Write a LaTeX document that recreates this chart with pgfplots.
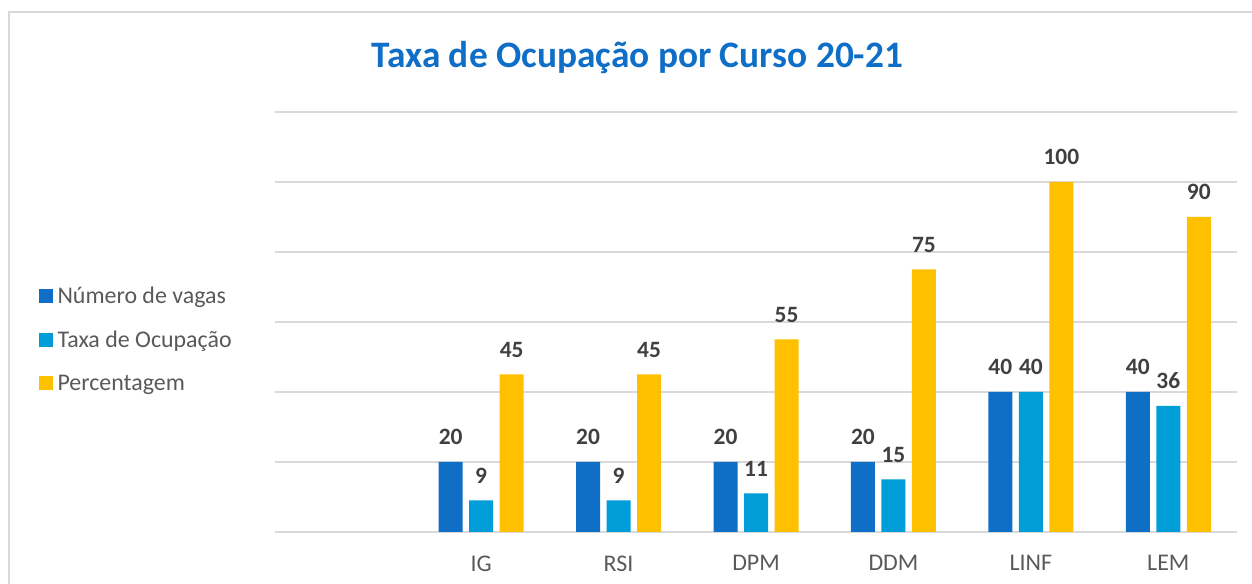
\documentclass[border=0pt]{standalone}
\usepackage{pgfplots}
\pgfplotsset{compat=1.18}
\usepackage{fontspec}
\setmainfont{Carlito}
\definecolor{cA}{HTML}{0F6FC6}
\definecolor{cB}{HTML}{009DD9}
\definecolor{cC}{HTML}{FFC000}
\definecolor{gridc}{HTML}{D9D9D9}
\definecolor{txt}{HTML}{595959}
\definecolor{lab}{HTML}{404040}
\pgfplotsset{mylegend/.style={legend image code/.code={\fill[##1] (0bp,-7bp) rectangle (14bp,7bp);}}}
\begin{document}
\begin{tikzpicture}[x=1bp,y=1bp]
\useasboundingbox (0,0) rectangle (1252,584);
\draw[gridc, line width=1.5bp] (9,0) -- (9,572) -- (1252,572);
\node[anchor=base, text=cA, font=\fontsize{37.5}{44}\selectfont\bfseries, inner sep=0pt] at (637.5,516) {Taxa de Ocupação por Curso 20-21};
\begin{axis}[
  at={(275bp,52bp)}, anchor=south west,
  scale only axis, width=962bp, height=420bp,
  ymin=0, ymax=120, xmin=-0.5, xmax=6.5,
  ybar=6.5bp, bar width=24bp,
  ytick={0,20,...,120}, yticklabels={},
  ymajorgrids, grid style={gridc, line width=1.5bp},
  axis line style={draw=none},
  major tick length=0pt,
  xtick={1,...,6}, xticklabels={IG,RSI,DPM,DDM,LINF,LEM},
  xticklabel style={font=\fontsize{24}{28}\selectfont, text=txt, yshift=-20bp},
  /pgf/number format/assume math mode=true,
  nodes near coords={\pgfmathprintnumber[assume math mode=true]{\pgfplotspointmeta}},
  every node near coord/.append style={font=\fontsize{23.5}{28}\selectfont\bfseries, text=lab, anchor=south, inner sep=0pt, yshift=17bp},
  legend style={at={(-0.246,0.4595)}, anchor=west, draw=none, fill=none, font=\fontsize{24}{28}\selectfont, text=txt, row sep=24bp, inner sep=0pt, nodes={inner sep=1bp}, /tikz/every odd column/.append style={column sep=4bp}},
  legend cell align=left,
  clip=false,
]
\addplot[fill=cA, draw=none, mylegend] coordinates {(1,20) (2,20) (3,20) (4,20) (5,40) (6,40)};
\addplot[fill=cB, draw=none, mylegend] coordinates {(1,9) (2,9) (3,11) (4,15) (5,40) (6,36)};
\addplot[fill=cC, draw=none, mylegend] coordinates {(1,45) (2,45) (3,55) (4,75) (5,100) (6,90)};
\legend{Número de vagas, Taxa de Ocupação, Percentagem}
\end{axis}
\end{tikzpicture}
\end{document}
